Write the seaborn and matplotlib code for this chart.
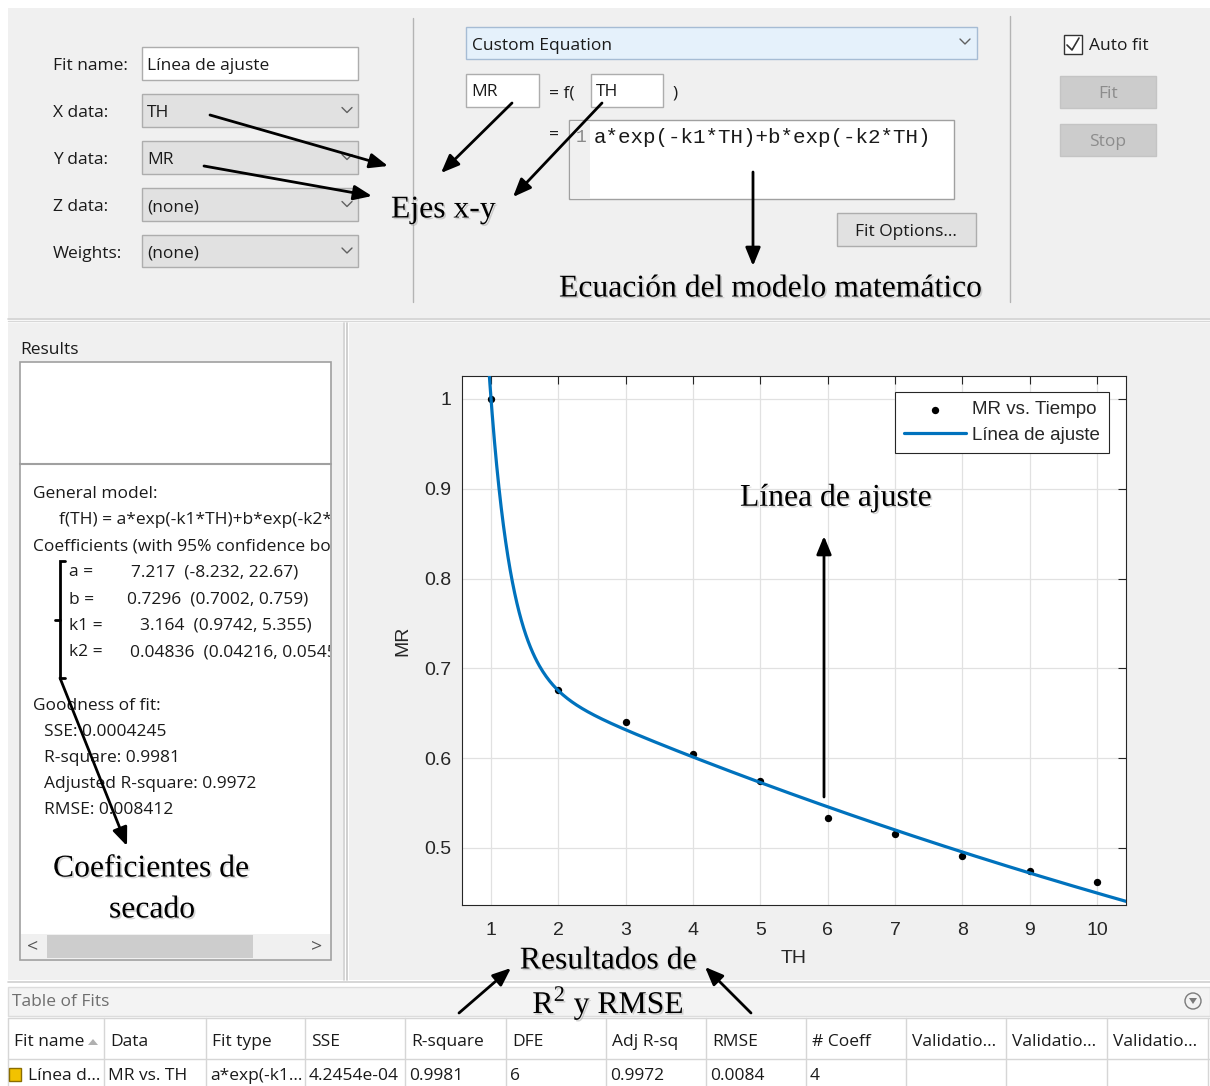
import numpy as np
import matplotlib
matplotlib.use("Agg")
import matplotlib.pyplot as plt
import matplotlib.patheffects as pe
from matplotlib.patches import Rectangle, Circle, Polygon
import seaborn as sns

# Drying data: moisture ratio (MR) against time (TH)
th = [1, 2, 3, 4, 5, 6, 7, 8, 9, 10]
mr = [1.000, 0.676, 0.640, 0.605, 0.575, 0.533, 0.516, 0.491, 0.474, 0.462]

# Two-term exponential model coefficients with 95% bounds
coef_names = ["a", "b", "k1", "k2"]
coef_values = ["7.217", "0.7296", "3.164", "0.04836"]
coef_bounds = ["(-8.232, 22.67)", "(0.7002, 0.759)", "(0.9742, 5.355)", "(0.04216, 0.05455)"]
a_coef, b_coef, k1_coef, k2_coef = 7.217, 0.7296, 3.164, 0.04836

gof_labels = ["SSE", "R-square", "Adjusted R-square", "RMSE"]
gof_values = ["0.0004245", "0.9981", "0.9972", "0.008412"]

table_columns = ["Fit name", "Data", "Fit type", "SSE", "R-square", "DFE",
                 "Adj R-sq", "RMSE", "# Coeff", "Validatio...", "Validatio...", "Validatio..."]
table_row = ["Línea d...", "MR vs. TH", "a*exp(-k1...", "4.2454e-04", "0.9981", "6",
             "0.9972", "0.0084", "4", "", "", ""]

x_ticks = [1, 2, 3, 4, 5, 6, 7, 8, 9, 10]
y_ticks = [0.5, 0.6, 0.7, 0.8, 0.9, 1.0]
y_ticklabels = ["0.5", "0.6", "0.7", "0.8", "0.9", "1"]

W, H = 1210, 1086
GUI = ["Open Sans", "DejaVu Sans"]
AXF = ["Liberation Sans", "DejaVu Sans"]
SERIF = ["Liberation Serif", "DejaVu Serif"]
MONO = ["Liberation Mono", "DejaVu Sans Mono"]
PANEL = "#f0f0f0"
TXT_DY = 2.5  # optical centring of interface text on its row

sns.set_style("white")
plt.rcParams["font.family"] = GUI

fig = plt.figure(figsize=(W / 100, H / 100), dpi=100)
fig.patch.set_facecolor("white")

# Pixel-space canvas for the tool window behind the chart
bg = fig.add_axes([0, 0, 1, 1], zorder=0)
bg.set_xlim(0, W)
bg.set_ylim(H, 0)
bg.axis("off")


def box(ax, x0, y0, x1, y1, fc, ec="none", lw=1.0, z=1):
    ax.add_patch(Rectangle((x0, y0), x1 - x0, y1 - y0, facecolor=fc,
                           edgecolor=ec, linewidth=lw, zorder=z))


def label(ax, x, y, s, size=12.5, family=GUI, color="#1a1a1a", ha="left",
          va="center", z=5, **kw):
    return ax.text(x, y + TXT_DY, s, fontsize=size, family=family, color=color,
                   ha=ha, va=va, zorder=z, **kw)


def chevron(ax, x, y, color="#606060"):
    ax.plot([x - 5, x, x + 5], [y - 3, y + 2, y - 3], color=color, lw=1.0, zorder=6)


# ---- top configuration panel ----
box(bg, 8, 8, W, 318, PANEL)
bg.plot([8, W], [319, 319], color="#d0d0d0", lw=1.2, zorder=2)
bg.plot([8, W], [321, 321], color="#d8d8d8", lw=1.0, zorder=2)
bg.plot([413, 413], [18, 302], color="#b4b4b4", lw=1.0, zorder=2)
bg.plot([1010, 1010], [16, 302], color="#b4b4b4", lw=1.0, zorder=2)

field_names = ["Fit name:", "X data:", "Y data:", "Z data:", "Weights:"]
field_values = ["Línea de ajuste", "TH", "MR", "(none)", "(none)"]
field_rows = [(47, 80), (94, 127), (141, 174), (188, 221), (235, 267)]
for i, (name, val, (y0, y1)) in enumerate(zip(field_names, field_values, field_rows)):
    yc = (y0 + y1) / 2
    label(bg, 53, yc, name)
    if i == 0:
        box(bg, 142, y0, 358, y1, "white", "#adadad", 1.0, 3)
    else:
        box(bg, 142, y0, 358, y1, "#e1e1e1", "#adadad", 1.0, 3)
        chevron(bg, 347, yc)
    label(bg, 147, yc, val)

box(bg, 466, 27, 977, 59, "#e5f1fb", "#a6bcd4", 1.0, 3)
label(bg, 472, 43, "Custom Equation")
chevron(bg, 965, 42)

box(bg, 466, 74, 539, 107, "white", "#adadad", 1.0, 3)
label(bg, 471, 90, "MR")
label(bg, 549, 91, "= f(")
box(bg, 591, 74, 663, 107, "white", "#adadad", 1.0, 3)
label(bg, 596, 90, "TH")
label(bg, 672, 91, ")")
label(bg, 549, 133, "=")
box(bg, 569, 120, 954, 199, "white", "#a0a0a0", 1.0, 3)
box(bg, 571, 121, 590, 198, "#f0f0f0", "none", 0, 3.5)
label(bg, 576, 135, "1", size=13, family=MONO, color="#8a8a8a")
label(bg, 594, 135, "a*exp(-k1*TH)+b*exp(-k2*TH)", size=15, family=MONO,
      color="#1a1a1a")

box(bg, 837, 213, 976, 246, "#e1e1e1", "#adadad", 1.0, 3)
label(bg, 906, 229, "Fit Options...", ha="center")

box(bg, 1064, 35, 1082, 54, "white", "#333333", 1.0, 3)
bg.plot([1067, 1072, 1079], [45, 50, 38], color="#333333", lw=1.2, zorder=6)
label(bg, 1089, 44, "Auto fit")
box(bg, 1060, 76, 1156, 108, "#cccccc", "#c4c4c4", 1.0, 3)
label(bg, 1108, 91, "Fit", ha="center", color="#8c8c8c")
box(bg, 1060, 124, 1156, 156, "#cccccc", "#c4c4c4", 1.0, 3)
label(bg, 1108, 139, "Stop", ha="center", color="#8c8c8c")

# ---- results panel ----
box(bg, 8, 323, 343, 980, PANEL)
bg.plot([344, 344], [323, 980], color="#d0d0d0", lw=1.2, zorder=2)
bg.plot([347, 347], [323, 980], color="#c8c8c8", lw=1.2, zorder=2)
label(bg, 20, 348, "Results")
box(bg, 20, 362, 331, 960, "white", "#a0a0a0", 1.2, 3)
bg.plot([20, 331], [464, 464], color="#a0a0a0", lw=1.5, zorder=4)
box(bg, 21, 934, 330, 959, PANEL, "none", 0, 3.5)
box(bg, 47, 935, 253, 958, "#cdcdcd", "none", 0, 4)
label(bg, 33, 944, "<", color="#555555", size=14, ha="center")
label(bg, 317, 944, ">", color="#555555", size=14, ha="center")

clip_rect = Rectangle((21, 465), 309, 468, transform=bg.transData)


def rlabel(x, y, s):
    t = label(bg, x, y, s)
    t.set_clip_on(True)
    t.set_clip_path(clip_rect)
    return t


rlabel(33, 491, "General model:")
rlabel(59, 517, "f(TH) = a*exp(-k1*TH)+b*exp(-k2*TH)")
rlabel(33, 544, "Coefficients (with 95% confidence bounds):")
coef_rows = [570, 597, 623, 650]
coef_x = [131, 127, 140, 130]
for name, val, bnd, yy, xx in zip(coef_names, coef_values, coef_bounds, coef_rows, coef_x):
    rlabel(69, yy, f"{name} =")
    rlabel(xx, yy, f"{val}  {bnd}")
rlabel(33, 703, "Goodness of fit:")
for lab, val, yy in zip(gof_labels, gof_values, [729, 755, 782, 808]):
    rlabel(44, yy, f"{lab}: {val}")

# ---- chart panel ----
box(bg, 349, 323, W, 980, PANEL)

# ---- table of fits ----
box(bg, 8, 982, W, H, "white")
bg.plot([8, W], [982, 982], color="#cfcfcf", lw=1.2, zorder=2)
box(bg, 8, 987, W, 1016, "#f3f3f3", "#dcdcdc", 1.0, 2)
label(bg, 12, 999, "Table of Fits", color="#6e6e6e")
bg.add_patch(Circle((1193, 1001), 8, facecolor="#f3f3f3", edgecolor="#7a7a7a",
                    lw=1.0, zorder=4))
bg.add_patch(Polygon([[1189, 998], [1197, 998], [1193, 1004]], closed=True,
                     facecolor="#7a7a7a", edgecolor="none", zorder=5))
col_edges = [8, 104, 206, 305, 405, 506, 606, 706, 806, 906, 1006, 1107, 1208]
bg.plot([8, W], [1018, 1018], color="#d6d6d6", lw=1.0, zorder=3)
bg.plot([8, W], [1059, 1059], color="#d6d6d6", lw=1.0, zorder=3)
for xe in col_edges:
    bg.plot([xe, xe], [1018, H], color="#d6d6d6", lw=1.0, zorder=3)
for i, (col, val) in enumerate(zip(table_columns, table_row)):
    x0 = col_edges[i]
    label(bg, x0 + 6, 1039, col)
    if val:
        label(bg, x0 + (20 if i == 0 else 4), 1074, val)
bg.add_patch(Polygon([[88, 1045], [98, 1045], [93, 1039]], closed=True,
                     facecolor="#b0b0b0", edgecolor="none", zorder=5))
box(bg, 9, 1068, 21, 1081, "#f2c200", "#8a6d00", 1.0, 5)

# ---- the chart itself ----
ax_l, ax_r, ax_t, ax_b = 462, 1126, 376, 905
ax = fig.add_axes([ax_l / W, 1 - ax_b / H, (ax_r - ax_l) / W, (ax_b - ax_t) / H], zorder=1)
ax.set_facecolor("white")

th_fit = np.linspace(0.5, 10.5, 600)
mr_fit = a_coef * np.exp(-k1_coef * th_fit) + b_coef * np.exp(-k2_coef * th_fit)

sns.scatterplot(x=th, y=mr, ax=ax, color="black", s=28, linewidth=0,
                label="MR vs. Tiempo", zorder=2)
sns.lineplot(x=th_fit, y=mr_fit, ax=ax, color="#0072BD", lw=2.3,
             label="Línea de ajuste", zorder=3)

ax.set_xlim(0.569, 10.431)
ax.set_ylim(0.4365, 1.0256)
ax.set_xticks(x_ticks)
ax.set_xticklabels([str(v) for v in x_ticks])
ax.set_yticks(y_ticks)
ax.set_yticklabels(y_ticklabels)
ax.grid(True, color="#e1e1e1", lw=0.9)
ax.set_axisbelow(True)
for sp in ax.spines.values():
    sp.set_visible(True)
    sp.set_color("#262626")
    sp.set_linewidth(0.8)
ax.tick_params(direction="in", length=6, width=0.8, top=True, right=True,
               colors="#262626", labelsize=14)
ax.tick_params(axis="x", pad=12.5)
ax.tick_params(axis="y", pad=8)
for t in ax.get_xticklabels() + ax.get_yticklabels():
    t.set_family(AXF)
    t.set_color("#262626")
ax.set_xlabel("TH", fontsize=14, family=AXF, color="#262626")
ax.set_ylabel("MR", fontsize=14, family=AXF, color="#262626")
ax.xaxis.set_label_coords(0.5, (ax_b - 950) / (ax_b - ax_t))
ax.yaxis.set_label_coords((411 - ax_l) / (ax_r - ax_l), 0.5)

leg = ax.legend(loc="upper right",
                bbox_to_anchor=((1109 - ax_l) / (ax_r - ax_l), (ax_b - 392) / (ax_b - ax_t)),
                borderaxespad=0, fancybox=False, framealpha=1, edgecolor="#262626",
                prop={"family": AXF, "size": 13.5}, handlelength=3.3,
                handletextpad=0.3, labelspacing=0.42, borderpad=0.5)
leg.get_frame().set_linewidth(0.8)

# ---- explanatory annotations ----
ov = fig.add_axes([0, 0, 1, 1], zorder=5)
ov.set_xlim(0, W)
ov.set_ylim(H, 0)
ov.axis("off")
ov.patch.set_visible(False)

shadow = [pe.withSimplePatchShadow(offset=(1.2, -1.2), shadow_rgbFace="#888888", alpha=0.35)]


def note(x, y, s, ha="left"):
    ov.text(x, y + 3, s, fontsize=22.8, family=SERIF, color="black", ha=ha,
            va="center", path_effects=shadow, zorder=6)


note(391, 207, "Ejes x-y")
note(559, 286, "Ecuación del modelo matemático")
note(740, 495, "Línea de ajuste")
note(53, 866, "Coeficientes de")
note(152, 907, "secado", ha="center")
note(608, 958, "Resultados de", ha="center")
note(608, 1000, "R$^{\\mathregular{2}}$ y RMSE", ha="center")

arrows = [((210, 115), (388, 166)), ((204, 166), (372, 196)),
          ((512, 103), (441, 173)), ((602, 103), (513, 197)),
          ((753, 172), (753, 266)), ((60, 678), (127, 846)),
          ((824, 797), (824, 536)), ((459, 1013), (511, 968)),
          ((751, 1013), (705, 967))]
for tail, tip in arrows:
    ov.annotate("", xy=tip, xytext=tail,
                arrowprops=dict(arrowstyle="-|>,head_length=1.1,head_width=0.45",
                                lw=2.0, color="black", shrinkA=0, shrinkB=0,
                                mutation_scale=10), zorder=6)

# bracket grouping the coefficients
ov.plot([65, 60, 60, 65], [561, 561, 678, 678], color="black", lw=2.0, zorder=6,
        solid_joinstyle="miter")
ov.plot([55, 60], [620, 620], color="black", lw=2.0, zorder=6)

fig.savefig("out.png", dpi=100, facecolor=fig.get_facecolor())
